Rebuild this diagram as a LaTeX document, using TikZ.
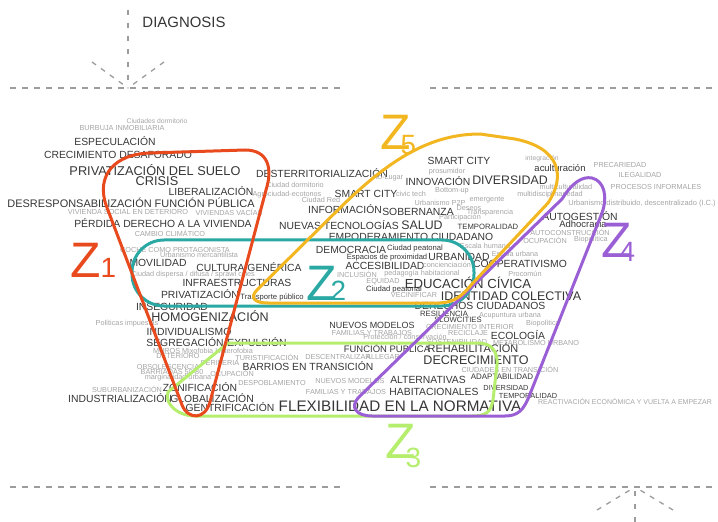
\documentclass[tikz,border=0pt]{standalone}
\usepackage{fontspec}
\setmainfont{Liberation Sans}
\usepackage{xcolor}
\usepackage{tikz}
\usetikzlibrary{positioning}
\definecolor{dunkel}{HTML}{363636}
\definecolor{hell}{HTML}{A4A4A4}
\definecolor{strich}{HTML}{9C9C9C}
\definecolor{rot}{HTML}{E8491D}
\definecolor{petrol}{HTML}{2AA8A3}
\definecolor{gelb}{HTML}{F2B620}
\definecolor{lila}{HTML}{9B5FD5}
\definecolor{gruen}{HTML}{B4EE6C}
\tikzset{
  Wort/.style={text=dunkel,inner sep=0pt,font=\fontsize{#1}{#1}\selectfont}, % dunkle Begriffe
  Wort/.default=10.4,
  Hell/.style={text=hell,inner sep=0pt,font=\fontsize{#1}{#1}\selectfont}, % helle Begriffe
  Hell/.default=7.3,
  Zone/.style={draw=#1,line width=3bp,line join=round}, % Zonenumrisse
  Zbuchst/.style={text=#1,inner sep=0pt,anchor=base,font=\fontsize{50}{50}\selectfont},
  Zziff/.style={text=#1,inner sep=0pt,font=\fontsize{28}{28}\selectfont},
  Achse/.style={draw=strich,line width=1.3bp,dash pattern=on 6bp off 6bp} % gestrichelte Achsen
}

\begin{document}
\begin{tikzpicture}[x=1bp,y=-1bp]
\useasboundingbox (0,0) rectangle (718,522);
\clip (0,0) rectangle (718,522);

%Achsen
\coordinate (oli) at (10,88);
\coordinate (olr) at (340,88);
\coordinate (ore) at (430,88);
\coordinate (orr) at (718,88);
\coordinate (oanf) at (128,10);
\coordinate (ospitze) at (128,88);
\coordinate (opl) at (92,62);
\coordinate (opr) at (164,62);
\coordinate (uli) at (10,487);
\coordinate (ulr) at (340,487);
\coordinate (ure) at (430,487);
\coordinate (urr) at (718,487);
\coordinate (uanf) at (635,522);
\coordinate (uspitze) at (635,487);
\coordinate (upl) at (597,510);
\coordinate (upr) at (673,510);

\draw[Achse] (oli) -- (olr);
\draw[Achse] (ore) -- (orr);
\draw[Achse,dash pattern=on 5bp off 8bp] (oanf) -- (ospitze);
\draw[Achse,dash pattern=on 5bp off 6bp] (opl) -- (ospitze);
\draw[Achse,dash pattern=on 5bp off 6bp] (opr) -- (ospitze);
\draw[Achse] (uli) -- (ulr);
\draw[Achse] (ure) -- (urr);
\draw[Achse,dash pattern=on 5bp off 8bp] (uanf) -- (uspitze);
\draw[Achse,dash pattern=on 5bp off 6bp] (upl) -- (uspitze);
\draw[Achse,dash pattern=on 5bp off 6bp] (upr) -- (uspitze);

\node[Wort=15] (diag) at (184,22) {DIAGNOSIS};

%Begriffe oben links
\node[Hell=6.8] (cdorm) at (157,121) {Ciudades dormitorio};
\node[Hell] (burb) at (122,128) {BURBUJA INMOBILIARIA};
\node[Wort] (espec) at (115,141) {ESPECULACIÓN};
\node[Wort] (crec) at (118,155) {CRECIMIENTO DESAFORADO};
\node[Wort=12.8] (privs) at (155,170) {PRIVATIZACIÓN DEL SUELO};
\node[Wort=12.8] (crisis) at (157,181) {CRISIS};
\node[Wort] (liber) at (211,191) {LIBERALIZACIÓN};
\node[Wort=11] (desresp) at (131,203) {DESRESPONSABILIZACIÓN FUNCIÓN PÚBLICA};
\node[Hell] (vsoc) at (128,212) {VIVIENDA SOCIAL EN DETERIORO};
\node[Hell] (vvac) at (229,212) {VIVIENDAS VACÍAS};
\node[Wort] (perd) at (163,223) {PÉRDIDA DERECHO A LA VIVIENDA};

%Begriffe Mitte oben
\node[Wort] (dester) at (322,173) {DESTERRITORIALIZACIÓN};
\node[Wort] (smart1) at (459,161) {SMART CITY};
\node[Hell] (prosum) at (447,172) {prosumidor};
\node[Hell] (nolug) at (388,178) {No-Lugar};
\node[Wort] (innov) at (438,181) {INNOVACIÓN};
\node[Wort=12.4] (divers) at (510,180) {DIVERSIDAD};
\node[Hell] (cdorm2) at (295,185) {Ciudad dormitorio};
\node[Hell] (agro) at (287,195) {Agrociudad-ecotonos};
\node[Hell] (cred) at (321,200) {Ciudad Red};
\node[Wort] (smart2) at (366,194) {SMART CITY};
\node[Hell] (civic) at (411,194) {civic tech};
\node[Hell] (bottom) at (452,191) {Bottom-up};
\node[Hell] (urbp2p) at (440,203) {Urbanismo P2P};
\node[Hell] (emerg) at (487,200) {emergente};
\node[Hell] (deseos) at (469,208) {Deseos};
\node[Hell] (transp) at (490,213) {Transparencia};
\node[Hell] (partic) at (460,218) {Participación};
\node[Wort] (inform) at (345,209) {INFORMACIÓN};
\node[Wort] (sober) at (418,212) {SOBERNANZA};
\node[Wort] (nuevt) at (339,225) {NUEVAS TECNOLOGÍAS};
\node[Wort=12.4] (salud) at (422,225) {SALUD};
\node[Wort=7.7] (temp1) at (488,227) {TEMPORALIDAD};
\node[Wort] (empod) at (411,237) {EMPODERAMIENTO CIUDADANO};

%Begriffe rechts oben
\node[Hell=6.8] (integ) at (542,159) {integración};
\node[Wort=9.5] (acult) at (560,168) {aculturación};
\node[Hell] (prec) at (620,165) {PRECARIEDAD};
\node[Hell] (ileg) at (640,175) {ILEGALIDAD};
\node[Hell] (procinf) at (656,187) {PROCESOS INFORMALES};
\node[Hell] (multic) at (566,187) {multiculturalidad};
\node[Hell] (multid) at (550,195) {multidisciplinariedad};
\node[Hell=7.5] (urbdist) at (642,204) {Urbanismo distribuido, descentralizado (I.C.)};
\node[Wort] (autog) at (580,216) {AUTOGESTIÓN};
\node[Wort=9.5] (adhoc) at (583,224) {Adhocracia};
\node[Hell] (autoc) at (570,232) {AUTOCONSTRUCCIÓN};
\node[Hell] (ocup1) at (545,240) {OCUPACIÓN};
\node[Hell] (biop1) at (591,240) {Biopolítica};

%Begriffe Z1/Z2 links
\node[Hell] (clima) at (170,233) {CAMBIO CLIMÁTICO};
\node[Hell] (coche) at (175,250) {COCHE COMO PROTAGONISTA};
\node[Hell] (merc) at (199,255) {Urbanismo mercantilista};
\node[Wort] (movil) at (158,263) {MOVILIDAD};
\node[Wort] (cultg) at (249,267) {CULTURA GENÉRICA};
\node[Hell] (disp) at (193,275) {Ciudad dispersa / difusa / sprawl cities};
\node[Wort] (infra) at (237,283) {INFRAESTRUCTURAS};
\node[Wort] (priv) at (200,294) {PRIVATIZACIÓN};
\node[Wort=7.7] (trpub) at (272,297) {Transporte público};
\node[Wort] (inseg) at (172,307) {INSEGURIDAD};
\node[Wort=12.6] (homog) at (210,316) {HOMOGENIZACIÓN};
\node[Hell] (polit) at (127,324) {Políticas impuestas};
\node[Wort] (indiv) at (189,332) {INDIVIDUALISMO};
\node[Wort] (segr) at (185,342) {SEGREGACIÓN};
\node[Wort] (expul) at (257,342) {EXPULSIÓN};

%Begriffe Z2 Mitte
\node[Wort] (democ) at (351,250) {DEMOCRACIA};
\node[Wort=7.7] (cpeat1) at (415,249) {Ciudad peatonal};
\node[Wort=7.6] (espprox) at (387,258) {Espacios de proximidad};
\node[Wort] (accs) at (385,266) {ACCESIBILIDAD};
\node[Wort] (urban) at (459,257) {URBANIDAD};
\node[Hell] (eschum) at (485,246) {Escala humana};
\node[Hell] (escurb) at (515,254) {Escala urbana};
\node[Wort] (coop) at (520,264) {COOPERATIVISMO};
\node[Hell] (conc) at (447,265) {concienciación};
\node[Hell] (procom) at (525,274) {Procomún};
\node[Hell] (inclus) at (357,274) {INCLUSIÓN};
\node[Hell] (pedag) at (422,274) {pedagogía habitacional};
\node[Hell] (equid) at (383,282) {EQUIDAD};
\node[Wort=13.2] (educ) at (468,283) {EDUCACIÓN CÍVICA};
\node[Wort=7.7] (cpeat2) at (394,290) {Ciudad peatonal};
\node[Hell] (vecin) at (414,295) {VECINIFICAR};
\node[Wort=12.5] (ident) at (511,296) {IDENTIDAD COLECTIVA};
\node[Wort] (derech) at (480,306) {DERECHOS CIUDADANOS};
\node[Wort=7.7] (resil) at (444,314) {RESILIENCIA};
\node[Hell] (acup) at (510,316) {Acupuntura urbana};
\node[Wort=7.7] (slow) at (458,320) {SLOWCITIES};
\node[Wort=9] (nmod1) at (372,325) {NUEVOS MODELOS};
\node[Hell] (crecint) at (470,327) {CRECIMIENTO INTERIOR};
\node[Hell] (biop2) at (543,324) {Biopolítica};

%Begriffe unten
\node[Hell] (famil1) at (372,333) {FAMILIAS Y TRABAJOS};
\node[Hell] (protec) at (405,337) {Protección / conservación};
\node[Hell] (recic) at (468,333) {RECICLAJE};
\node[Wort] (ecol) at (518,335) {ECOLOGÍA};
\node[Hell] (sosten) at (457,342) {SOSTENIBILIDAD};
\node[Hell] (metab) at (536,343) {METABOLISMO URBANO};
\node[Wort=9.5] (funcp) at (387,348) {FUNCIÓN PÚBLICA};
\node[Wort=11] (rehab) at (473,348) {REHABILITACIÓN};
\node[Hell] (muros) at (203,351) {MUROS Mixofobia Heterofobia};
\node[Hell] (deter) at (178,356) {DETERIORO};
\node[Hell] (turist) at (267,357) {TURISTIFICACIÓN};
\node[Hell] (descen) at (338,357) {DESCENTRALIZAR};
\node[Hell] (alleg) at (383,357) {ALLEGAR};
\node[Wort=12.6] (decrec) at (476,360) {DECRECIMIENTO};
\node[Hell] (perif) at (220,363) {PERIFERIA};
\node[Hell] (obsol) at (168,367) {OBSOLESCENCIA};
\node[Wort] (barr) at (308,366) {BARRIOS EN TRANSICIÓN};
\node[Hell] (ciutr) at (510,369) {CIUDADES EN TRANSICIÓN};
\node[Hell] (barri) at (172,372) {BARRIADAS 50-80};
\node[Hell] (ocup2) at (232,373) {OCUPACIÓN};
\node[Hell] (margin) at (178,378) {marginalidad urbana};
\node[Wort=8] (adapt) at (502,377) {ADAPTABILIDAD};
\node[Wort] (altern) at (428,380) {ALTERNATIVAS};
\node[Hell] (nmod2) at (350,381) {NUEVOS MODELOS};
\node[Hell] (despob) at (272,383) {DESPOBLAMIENTO};
\node[Wort] (zonif) at (200,387) {ZONIFICACIÓN};
\node[Hell] (suburb) at (127,389) {SUBURBANIZACIÓN};
\node[Wort=7.4] (divers2) at (506,388) {DIVERSIDAD};
\node[Hell] (famil2) at (346,392) {FAMILIAS Y TRABAJOS};
\node[Wort] (habit) at (434,392) {HABITACIONALES};
\node[Wort=7.4] (temp2) at (528,396) {TEMPORALIDAD};
\node[Wort] (indus) at (120,398) {INDUSTRIALIZACIÓN};
\node[Wort] (glob) at (212,398) {GLOBALIZACIÓN};
\node[Wort] (gentr) at (230,407) {GENTRIFICACIÓN};
\node[Wort=15.3] (flex) at (400,406) {FLEXIBILIDAD EN LA NORMATIVA};
\node[Hell=7,anchor=west] (react) at (538,402) {REACTIVACIÓN ECONÓMICA Y VUELTA A EMPEZAR};

%Zonen
\draw[Zone=gruen] (228,343) -- (478,343) .. controls (492,343) and (498,352) .. (497,365)
  -- (493,400) .. controls (491,412) and (486,416) .. (472,416) -- (195,416)
  .. controls (178,416) and (164,404) .. (168,392) -- cycle;
\draw[Zone=petrol,rounded corners=32bp] (132,240) rectangle (474,306);
\draw[Zone=lila] (358,398) -- (562,199) .. controls (572,183) and (582,176) .. (592,178)
  .. controls (604,181) and (608,196) .. (602,213) -- (530,394)
  .. controls (524,410) and (518,416) .. (505,416) -- (372,416)
  .. controls (356,416) and (350,407) .. (358,398) -- cycle;
\draw[Zone=gelb] (257,290) -- (345,203) .. controls (390,160) and (430,134) .. (480,134)
  -- (515,139) .. controls (560,148) and (566,176) .. (548,203) -- (472,284)
  .. controls (462,296) and (455,302) .. (440,303) -- (268,303)
  .. controls (255,303) and (249,298) .. (257,290) -- cycle;
\draw[Zone=rot] (106,205) .. controls (96,175) and (115,154) .. (150,153) -- (245,150)
  .. controls (268,150) and (273,168) .. (266,190) -- (210,402)
  .. controls (205,420) and (188,420) .. (182,405) -- cycle;

%Zonenbezeichnungen
\node[Zbuchst=rot] (z1) at (86,278) {Z};
\node[Zziff=rot,base right=-1pt of z1] (z1n) {1};
\node[Zbuchst=petrol] (z2) at (322,300) {Z};
\node[Zziff=petrol,base right=-7pt of z2] (z2n) {2};
\node[Zbuchst=gruen] (z3) at (401,458) {Z};
\node[Zziff=gruen,base right=-11pt of z3,yshift=-10pt] (z3n) {3};
\node[Zbuchst=lila] (z4) at (617,258) {Z};
\node[Zziff=lila,base right=-13pt of z4,yshift=-4pt] (z4n) {4};
\node[Zbuchst=gelb] (z5) at (396,150) {Z};
\node[Zziff=gelb,base right=-11pt of z5,yshift=-5pt] (z5n) {5};

\end{tikzpicture}
\end{document}
